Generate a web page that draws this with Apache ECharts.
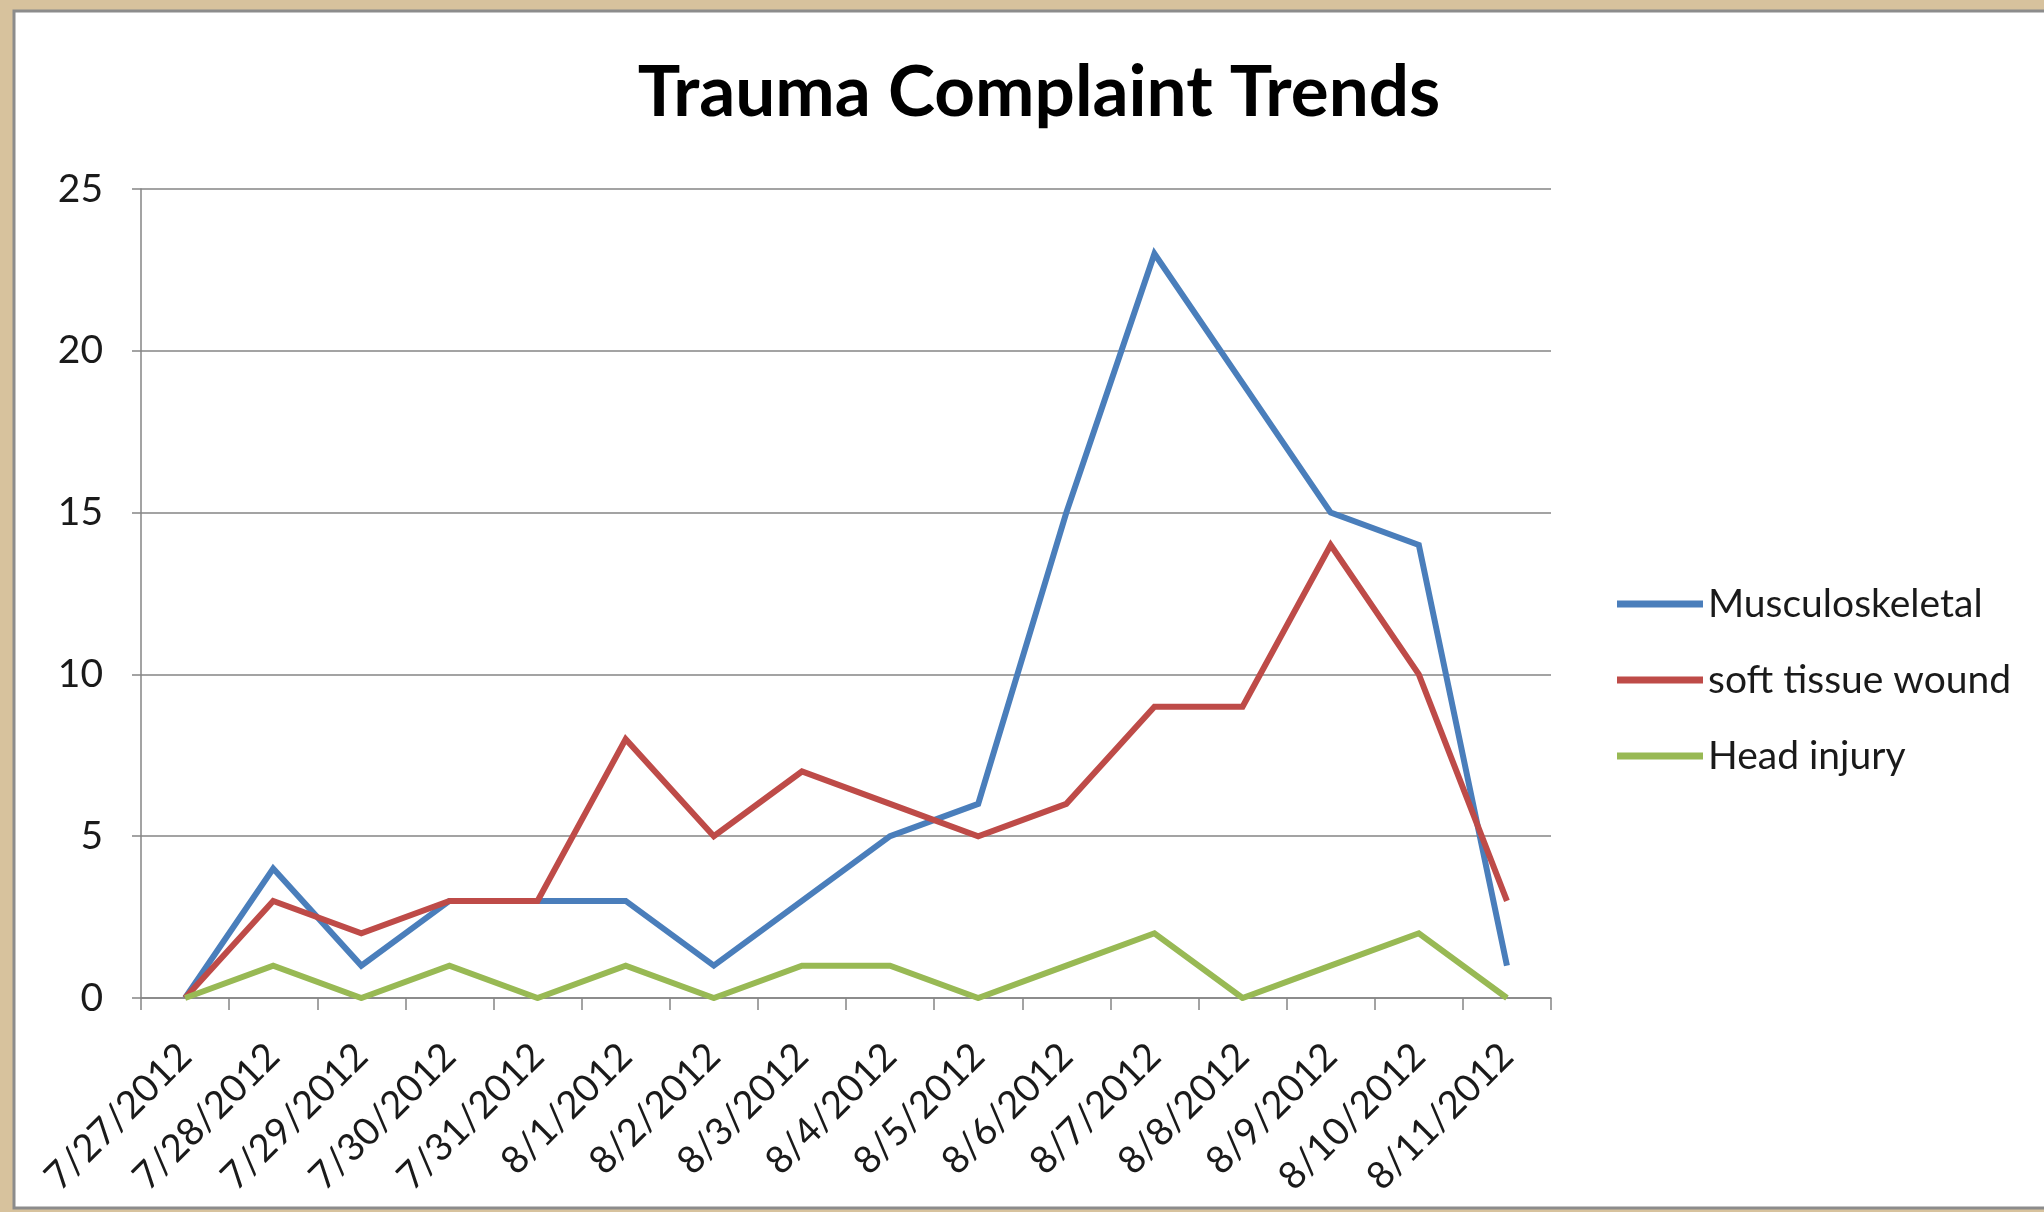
<!DOCTYPE html>
<html>
<head>
<meta charset="utf-8">
<script src="https://cdn.jsdelivr.net/npm/echarts@6/dist/echarts.min.js"></script>
<style>
html,body{margin:0;padding:0;background:#D7C29D;}
#c{width:2044px;height:1212px;}
</style>
</head>
<body>
<div id="c"></div>
<script>
const categories = ['7/27/2012','7/28/2012','7/29/2012','7/30/2012','7/31/2012','8/1/2012','8/2/2012','8/3/2012','8/4/2012','8/5/2012','8/6/2012','8/7/2012','8/8/2012','8/9/2012','8/10/2012','8/11/2012'];
const musculoskeletal = [0,4,1,3,3,3,1,3,5,6,15,23,19,15,14,1];
const softTissue = [0,3,2,3,3,8,5,7,6,5,6,9,9,14,10,3];
const headInjury = [0,1,0,1,0,1,0,1,1,0,1,2,0,1,2,0];
const seriesNames = ['Musculoskeletal','soft tissue wound','Head injury'];
const colors = ['#4A7EBB','#BE4B48','#98B954'];

const chart = echarts.init(document.getElementById('c'), null, {renderer:'canvas'});
const mk = (name, data, color) => ({
  name, type:'line', data, symbol:'none', smooth:false,
  lineStyle:{color, width:6, join:'miter'}, itemStyle:{color}
});
chart.setOption({
  backgroundColor:'#D7C29D',
  animation:false,
  graphic:[{
    type:'rect', z:-10, silent:true,
    shape:{x:14,y:11,width:2040,height:1197},
    style:{fill:'#ffffff', stroke:'#8c8c8c', lineWidth:3}
  }],
  title:{
    text:'Trauma Complaint Trends',
    left:1034, top:53, textAlign:'center',
    textStyle:{fontFamily:'Lato', fontWeight:'bold', fontSize:71, color:'#000'}
  },
  legend:{
    orient:'vertical', left:1612, top:579,
    itemWidth:86, itemHeight:7, itemGap:36, icon:'rect',
    textStyle:{fontFamily:'Lato', fontSize:39, color:'#1a1a1a', lineHeight:40},
    data:seriesNames
  },
  grid:{left:141, right:493, top:189, bottom:214, containLabel:false},
  xAxis:{
    type:'category', data:categories, boundaryGap:true,
    axisLine:{show:true, lineStyle:{color:'#858585', width:1.5}},
    axisTick:{show:true, interval:0, length:12, lineStyle:{color:'#858585', width:1.5}},
    axisLabel:{interval:0, rotate:45, margin:52, fontFamily:'Lato', fontSize:38, color:'#1a1a1a'},
    splitLine:{show:false}
  },
  yAxis:{
    type:'value', min:0, max:25, interval:5,
    axisLine:{show:true, lineStyle:{color:'#858585', width:1.5}},
    axisTick:{show:true, length:9, lineStyle:{color:'#858585', width:1.5}},
    axisLabel:{margin:38, fontFamily:'Lato', fontSize:39, color:'#1a1a1a'},
    splitLine:{show:true, lineStyle:{color:'#858585', width:1.5}}
  },
  series:[
    mk(seriesNames[0], musculoskeletal, colors[0]),
    mk(seriesNames[1], softTissue, colors[1]),
    mk(seriesNames[2], headInjury, colors[2])
  ]
});
</script>
</body>
</html>
